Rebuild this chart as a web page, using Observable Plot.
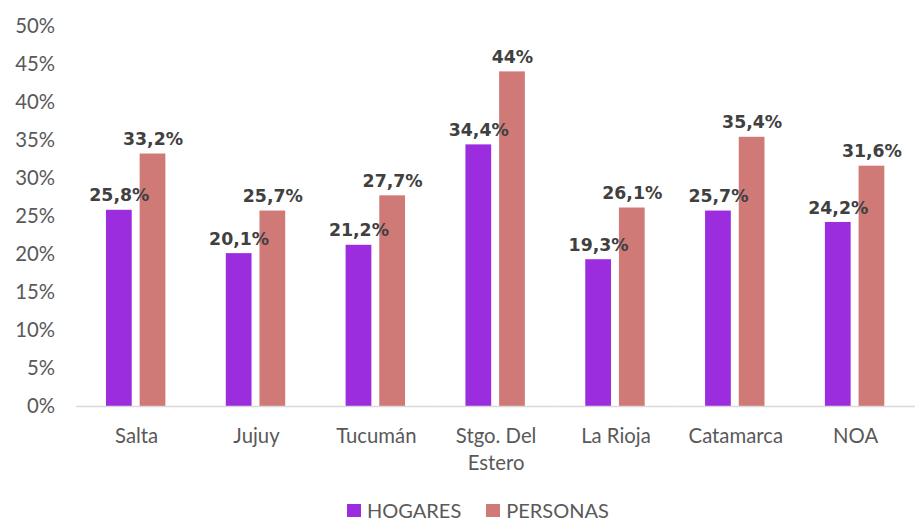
<!DOCTYPE html>
<html>
<head>
<meta charset="utf-8">
<script src="https://cdn.jsdelivr.net/npm/d3@7"></script>
<script src="https://cdn.jsdelivr.net/npm/@observablehq/plot@0.6"></script>
<style>
  html, body { margin: 0; padding: 0; background: #fff; overflow: hidden; }
  #wrap { position: relative; width: 917px; height: 522px; overflow: hidden; }
  #chart svg { display: block; }
  #legend { position: absolute; top: 502px; left: 347px; font-family: Lato, sans-serif; font-size: 20px; line-height: 16px; color: #595959; display: flex; align-items: center; white-space: nowrap; }
  .sw { display: inline-block; width: 14px; height: 13px; margin-right: 6px; }
  .item { display: flex; align-items: center; margin-right: 25px; }
</style>
</head>
<body>
<div id="wrap">
  <div id="chart"></div>
  <div id="legend"></div>
</div>
<script>
const regions = ["Salta", "Jujuy", "Tucumán", "Stgo. Del\nEstero", "La Rioja", "Catamarca", "NOA"];
const seriesNames = ["HOGARES", "PERSONAS"];
const hogares = [25.8, 20.1, 21.2, 34.4, 19.3, 25.7, 24.2];
const personas = [33.2, 25.7, 27.7, 44, 26.1, 35.4, 31.6];
const yTicks = [0, 5, 10, 15, 20, 25, 30, 35, 40, 45, 50];
const colors = ["#9B2DDE", "#D07A77"];

const rows = [];
regions.forEach((r, i) => {
  rows.push({region: r, series: seriesNames[0], value: hogares[i]});
  rows.push({region: r, series: seriesNames[1], value: personas[i]});
});
const fmt = v => (Number.isInteger(v) ? String(v) : String(v).replace(".", ",")) + "%";

const chart = Plot.plot({
  width: 926,
  height: 504,
  marginLeft: 74,
  marginRight: 0,
  marginTop: 26,
  marginBottom: 94,
  style: {fontFamily: "Lato, sans-serif", background: "white", overflow: "visible"},
  fx: {domain: regions, padding: 0, label: null},
  x: {domain: seriesNames, paddingInner: 0.2286, paddingOuter: 0.853, axis: null},
  y: {domain: [0, 50], axis: null},
  color: {domain: seriesNames, range: colors},
  marks: [
    Plot.axisY({ticks: yTicks, tickSize: 0, tickPadding: 22, tickFormat: d => d + "%", fontSize: 20.5, fill: "#595959", label: null}),
    Plot.axisFx({anchor: "bottom", tickSize: 0, tickPadding: 17, fontSize: 20.5, fill: "#595959", lineHeight: 1.35, label: null}),
    Plot.barY(rows, {fx: "region", x: "series", y: "value", fill: "series"}),
    Plot.ruleY([0], {stroke: "#D9D9D9", strokeWidth: 1.3}),
    Plot.text(rows, {fx: "region", x: "series", y: "value", text: d => fmt(d.value), dy: -9, lineAnchor: "bottom",
      fontFamily: "DejaVu Sans, sans-serif", fontWeight: "bold", fontSize: 17.5, fill: "#404040"})
  ]
});
document.getElementById("chart").appendChild(chart);

const legend = document.getElementById("legend");
seriesNames.forEach((s, i) => {
  const it = document.createElement("span");
  it.className = "item";
  const sw = document.createElement("span");
  sw.className = "sw";
  sw.style.background = colors[i];
  it.appendChild(sw);
  it.appendChild(document.createTextNode(s));
  legend.appendChild(it);
});
</script>
</body>
</html>
